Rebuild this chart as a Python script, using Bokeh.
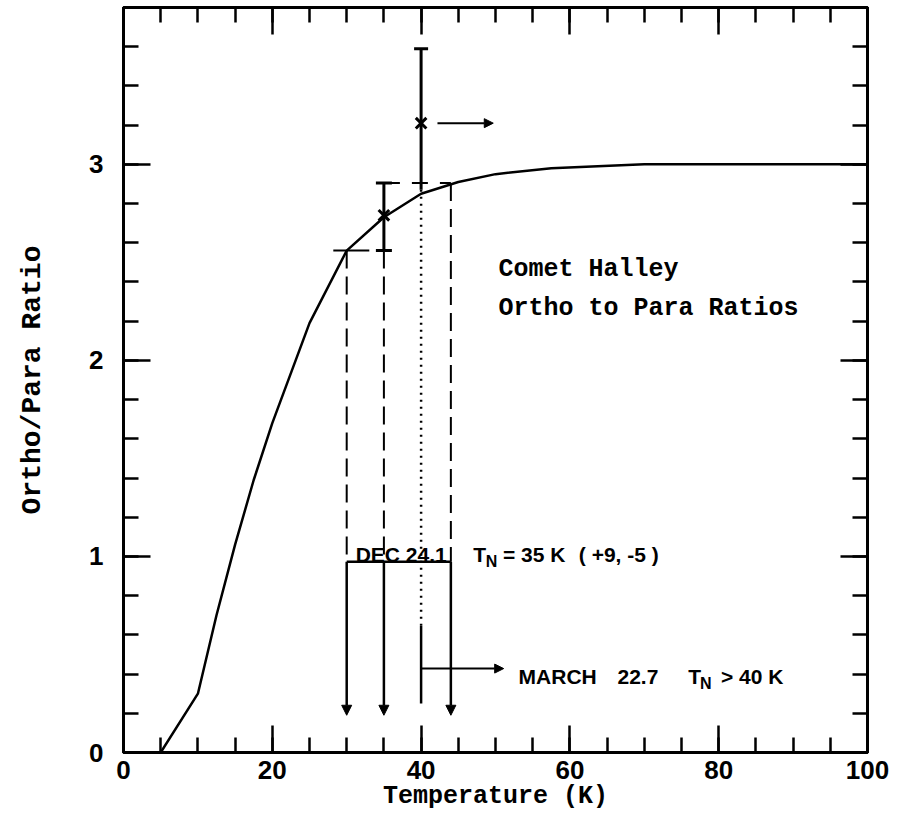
from bokeh.plotting import figure
from bokeh.models import (Range1d, FixedTicker, LinearAxis, Label, Arrow,
                          NormalHead, Whisker, TeeHead, ColumnDataSource,
                          CustomJSTickFormatter)
from bokeh.embed import file_html
from bokeh.resources import INLINE

# Equilibrium ortho/para ratio of water versus nuclear spin temperature
temperature = [2, 5, 10, 12.5, 15, 17.5, 20, 25, 30, 35, 40, 45, 50, 57.5, 70, 80, 90, 100]
ortho_para = [0, 0, 0.30, 0.70, 1.06, 1.39, 1.68, 2.19, 2.56, 2.73, 2.85, 2.91,
              2.95, 2.98, 3.0, 3.0, 3.0, 3.0]

# Measured ratios
dec_T, dec_plus, dec_minus = 35, 9, 5
dec_ratio, dec_lo, dec_hi = 2.74, 2.56, 2.905
mar_T = 40
mar_ratio, mar_lo, mar_hi = 3.21, 2.87, 3.59

bracket_level = 0.973
arrow_tip = 0.19

x_ticks = [0, 20, 40, 60, 80, 100]
x_minor = list(range(0, 101, 5))
y_ticks = [0, 1, 2, 3]
y_minor = [round(0.2 * i, 1) for i in range(20)]

MONO = "Liberation Mono"
SANS = "Liberation Sans"

p = figure(width=898, height=820, x_range=Range1d(0, 100), y_range=Range1d(0, 3.8),
           output_backend="svg", toolbar_location=None,
           min_border_left=123, min_border_right=31, min_border_top=7,
           min_border_bottom=68, background_fill_color="white",
           border_fill_color="white")
p.grid.visible = False
p.outline_line_color = "black"
p.outline_line_width = 3


def style_axis(ax, ticks, minor, show_labels=True):
    ax.ticker = FixedTicker(ticks=ticks, minor_ticks=minor)
    ax.major_tick_in = 27
    ax.major_tick_out = 0
    ax.minor_tick_in = 15
    ax.minor_tick_out = 0
    ax.axis_line_width = 3
    ax.major_tick_line_width = 2.5
    ax.minor_tick_line_width = 2.5
    ax.axis_line_color = "black"
    ax.major_tick_line_color = "black"
    ax.minor_tick_line_color = "black"
    if show_labels:
        ax.major_label_text_font = SANS
        ax.major_label_text_font_style = "bold"
        ax.major_label_text_font_size = "26px"
        ax.major_label_text_color = "black"
    else:
        ax.formatter = CustomJSTickFormatter(code="return ''")
        ax.major_label_standoff = 0


xa = p.xaxis[0]
ya = p.yaxis[0]
style_axis(xa, x_ticks, x_minor)
style_axis(ya, y_ticks, y_minor)
xa.major_label_standoff = 8
ya.major_label_standoff = 20

xa.axis_label = "Temperature (K)"
ya.axis_label = "Ortho/Para Ratio"
for ax in (xa, ya):
    ax.axis_label_text_font = MONO
    ax.axis_label_text_font_style = "bold"
    ax.axis_label_text_color = "black"
xa.axis_label_text_font_size = "25px"
ya.axis_label_text_font_size = "28px"
xa.axis_label_standoff = 0
ya.axis_label_standoff = 38

top = LinearAxis()
style_axis(top, x_ticks, x_minor, show_labels=False)
p.add_layout(top, "above")
right = LinearAxis()
style_axis(right, y_ticks, y_minor, show_labels=False)
p.add_layout(right, "right")

# Theoretical curve
p.line(temperature, ortho_para, line_color="black", line_width=2.5)

# Dashed guides from the December error bar
dec_left = dec_T - dec_minus
dec_right = dec_T + dec_plus
p.line([28.2, dec_T], [dec_lo, dec_lo], line_color="black", line_width=2,
       line_dash="36 12")
p.line([dec_T, dec_right], [dec_hi, dec_hi], line_color="black", line_width=2,
       line_dash="16 12")
p.line([dec_left, dec_left], [dec_lo, bracket_level], line_color="black",
       line_width=2, line_dash="18 8")
p.line([dec_T, dec_T], [dec_lo, bracket_level], line_color="black",
       line_width=2, line_dash="18 8")
p.line([dec_right, dec_right], [dec_hi, bracket_level], line_color="black",
       line_width=2, line_dash="18 8")

# Bracket and down arrows
p.line([dec_left, dec_right], [bracket_level, bracket_level], line_color="black",
       line_width=2.5)
for xt in (dec_left, dec_T, dec_right):
    p.add_layout(Arrow(end=NormalHead(size=10, fill_color="black", line_color="black"),
                       x_start=xt, y_start=bracket_level, x_end=xt, y_end=arrow_tip,
                       line_color="black", line_width=2.5))

# March lower limit guide
p.line([mar_T, mar_T], [mar_lo, 0.645], line_color="black", line_width=2.5,
       line_dash="2 5")
p.line([mar_T, mar_T], [0.645, 0.25], line_color="black", line_width=2.5)
p.add_layout(Arrow(end=NormalHead(size=9, fill_color="black", line_color="black"),
                   x_start=mar_T, y_start=0.428, x_end=51.1, y_end=0.428,
                   line_color="black", line_width=2))

# Error bars
dec_src = ColumnDataSource(dict(base=[dec_T], upper=[dec_hi], lower=[dec_lo]))
p.add_layout(Whisker(source=dec_src, base="base", upper="upper", lower="lower",
                     dimension="height", line_color="black", line_width=3,
                     upper_head=TeeHead(size=16, line_width=3, line_color="black"),
                     lower_head=TeeHead(size=16, line_width=3, line_color="black")))
mar_src = ColumnDataSource(dict(base=[mar_T], upper=[mar_hi], lower=[mar_lo]))
p.add_layout(Whisker(source=mar_src, base="base", upper="upper", lower="lower",
                     dimension="height", line_color="black", line_width=3,
                     upper_head=TeeHead(size=14, line_width=3, line_color="black"),
                     lower_head=None))
p.scatter([dec_T, mar_T], [dec_ratio, mar_ratio], marker="x", size=15,
          line_color="black", line_width=3)
p.add_layout(Arrow(end=NormalHead(size=9, fill_color="black", line_color="black"),
                   x_start=42.2, y_start=mar_ratio, x_end=49.7, y_end=mar_ratio,
                   line_color="black", line_width=2))


def add_text(x, y, text, font=SANS, size="21px"):
    p.add_layout(Label(x=x, y=y, text=text, text_font=font, text_font_size=size,
                       text_font_style="bold", text_color="black",
                       text_baseline="alphabetic"))


add_text(50.4, 2.465, "Comet Halley", font=MONO, size="25px")
add_text(50.4, 2.267, "Ortho to Para Ratios", font=MONO, size="25px")

add_text(31.2, 1.008, "DEC 24.1")
add_text(47.0, 1.008, "T")
add_text(48.7, 0.973, "N", size="16px")
add_text(51.0, 1.008, f"= {dec_T} K")
add_text(61.2, 1.008, f"( +{dec_plus}, -{dec_minus} )")

add_text(53.1, 0.387, "MARCH")
add_text(66.4, 0.387, "22.7")
add_text(75.9, 0.387, "T")
add_text(77.5, 0.351, "N", size="16px")
add_text(80.3, 0.387, f"> {mar_T} K")

open("out.html", "w").write(file_html(p, INLINE))
